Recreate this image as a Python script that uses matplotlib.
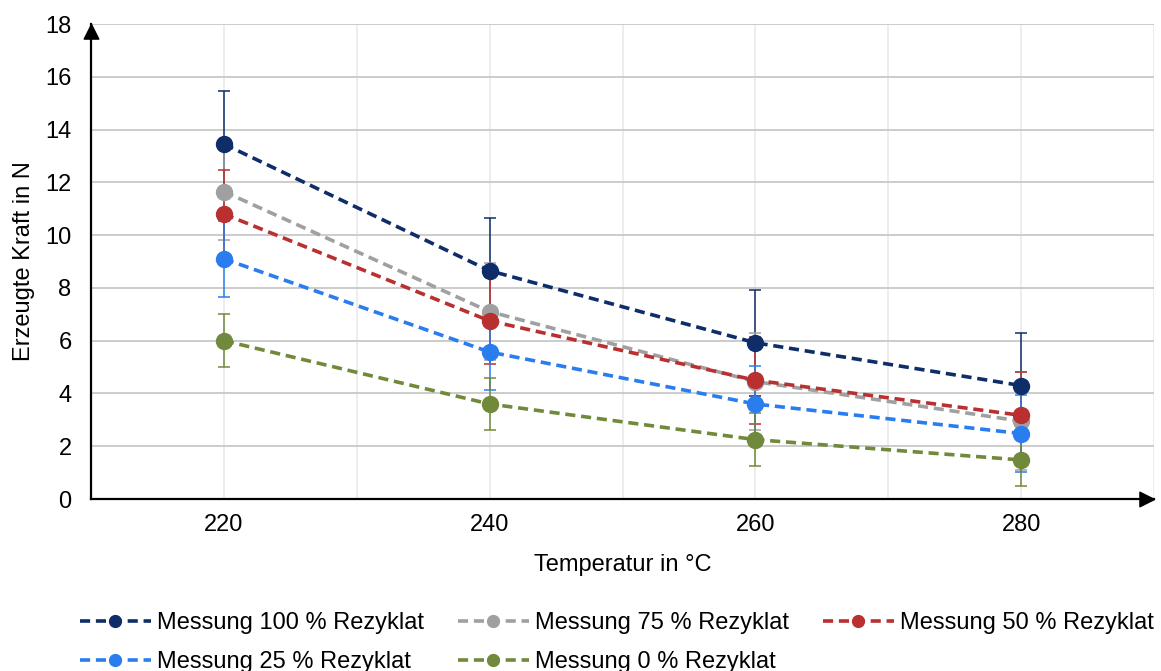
import matplotlib
matplotlib.use('Agg')
import matplotlib.pyplot as plt
from matplotlib.path import Path
from matplotlib.lines import Line2D

plt.rcParams['font.family'] = ['Liberation Sans', 'DejaVu Sans']

# Daten
temperatur = [220, 240, 260, 280]
labels = ['Messung 100 % Rezyklat', 'Messung 75 % Rezyklat', 'Messung 50 % Rezyklat',
          'Messung 25 % Rezyklat', 'Messung 0 % Rezyklat']
kraft_100 = [13.45, 8.65, 5.92, 4.30]
kraft_75 = [11.65, 7.10, 4.45, 2.95]
kraft_50 = [10.80, 6.75, 4.50, 3.17]
kraft_25 = [9.10, 5.57, 3.60, 2.48]
kraft_0 = [6.00, 3.60, 2.25, 1.48]
fehler = [2.0, 1.85, 1.65, 1.45, 1.0]
farben = ['#0E2D69', '#A0A0A0', '#BA2F2F', '#2A7DEE', '#71893A']

reihen = [kraft_100, kraft_75, kraft_50, kraft_25, kraft_0]
strich = (0, (2.8, 1.6))

fig = plt.figure(figsize=(11.61, 6.71), dpi=100)
ax = fig.add_axes([91 / 1161, 1 - 499 / 671, 1063 / 1161, 475 / 671])

handles = []
for werte, err, farbe, lab in zip(reihen, fehler, farben, labels):
    ax.errorbar(temperatur, werte, yerr=err, color=farbe, ecolor=farbe,
                elinewidth=1.1, capsize=4.3, capthick=1.1,
                linestyle=strich, linewidth=2.6,
                marker='o', markersize=11.5, zorder=3)
    # Legendeneintrag ohne Fehlerbalken
    handles.append(Line2D([], [], color=farbe, linestyle=strich, linewidth=2.6,
                          marker='o', markersize=8.5))

ax.set_xlim(210, 290)
ax.set_ylim(0, 18)
ax.set_xticks([220, 240, 260, 280])
ax.set_xticks([230, 250, 270, 290], minor=True)
ax.set_yticks(range(0, 19, 2))
ax.tick_params(axis='both', which='both', length=0, labelsize=17)
ax.tick_params(axis='x', pad=11)
ax.tick_params(axis='y', pad=14)

ax.grid(axis='y', color='#C8C8C8', linewidth=1.3, zorder=0)
ax.grid(axis='x', which='both', color='#E8E8E8', linewidth=1.1, zorder=0)
ax.set_axisbelow(True)

for s in ['top', 'right']:
    ax.spines[s].set_visible(False)
for s in ['left', 'bottom']:
    ax.spines[s].set_linewidth(1.6)
    ax.spines[s].set_color('black')
    ax.spines[s].set_zorder(4)

# Pfeilspitzen an den Achsen
pfeil_oben = Path([(0, 0), (-0.5, -1), (0.5, -1), (0, 0)])
pfeil_rechts = Path([(0, 0), (-1, 0.5), (-1, -0.5), (0, 0)])
ax.plot(0, 1, marker=pfeil_oben, markersize=21, color='black',
        transform=ax.transAxes, clip_on=False, zorder=5)
ax.plot(1, 0, marker=pfeil_rechts, markersize=21, color='black',
        transform=ax.transAxes, clip_on=False, zorder=5)

ax.set_xlabel('Temperatur in °C', fontsize=17, labelpad=13)
ax.set_ylabel('Erzeugte Kraft in N', fontsize=17, labelpad=7)

# Legende zeilenweise: 100, 75, 50 / 25, 0
reihenfolge = [0, 3, 1, 4, 2]
fig.legend([handles[i] for i in reihenfolge], [labels[i] for i in reihenfolge],
           loc='upper left', bbox_to_anchor=(80 / 1161, 1 - 612 / 671),
           ncol=3, frameon=False, fontsize=17, handlelength=3.0,
           handletextpad=0.25, columnspacing=1.45, labelspacing=0.72,
           borderpad=0, borderaxespad=0)

fig.savefig('out.png', dpi=100)
